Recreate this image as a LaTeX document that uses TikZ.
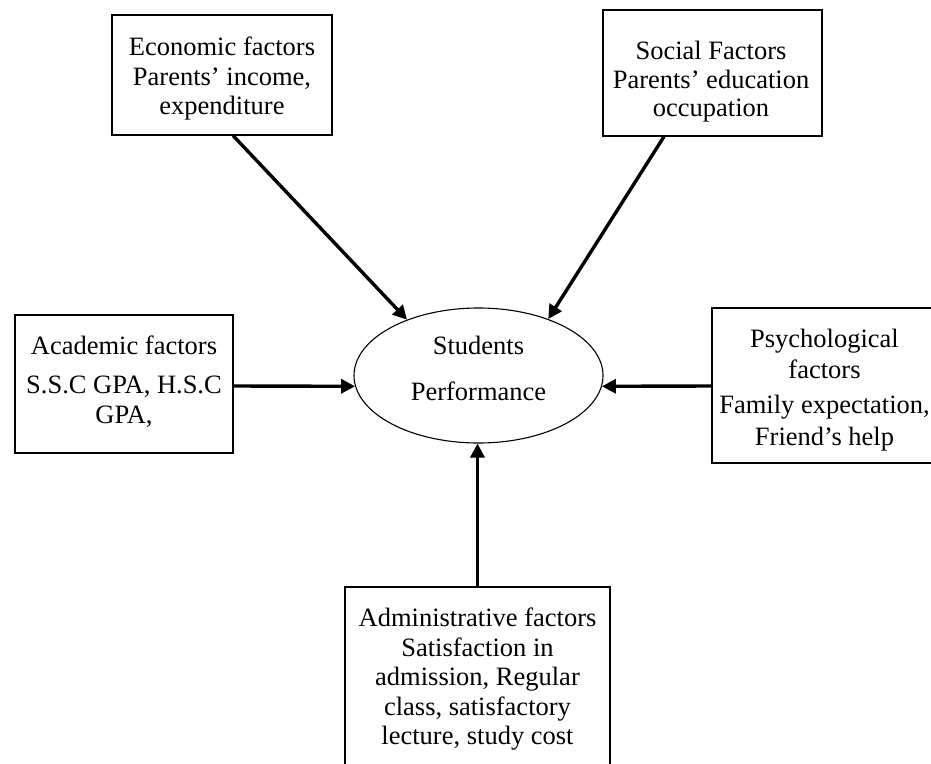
\documentclass[tikz,border=0pt]{standalone}
\usepackage{fontspec}
\setmainfont{Liberation Serif}
\usetikzlibrary{arrows.meta,shapes.geometric}
\begin{document}
\begin{tikzpicture}[x=1pt,y=-1pt,
  box/.style={draw, line width=1.1pt, inner sep=0pt},
  txt/.style={anchor=north, inner sep=0pt, align=center,
    font=\fontsize{26.5}{29.5}\selectfont},
  arr/.style={line width=3.4pt, -{Triangle[length=14pt 0 0,width=14pt 0 0]}}]
\useasboundingbox (0,0) rectangle (931,763);
\clip (0,0) rectangle (931,763);
% boxes
\node[box, minimum width=220pt, minimum height=120pt] (eco) at (222,75) {};
\node[box, minimum width=219pt, minimum height=126pt] (soc) at (712.5,73) {};
\node[box, minimum width=218pt, minimum height=138pt] (aca) at (124,384) {};
\node[box, minimum width=232pt, minimum height=155pt] (psy) at (828,385.5) {};
\node[box, minimum width=265pt, minimum height=213pt] (adm) at (477.5,693.5) {};
\node[ellipse, draw, line width=1.1pt, inner sep=0pt,
      minimum width=249pt, minimum height=135pt] (perf) at (478.5,375.5) {};
% texts
\node[txt] (ecot) at (222,37) {Economic factors\\Parents’ income,\\expenditure};
\node[txt] (soct) at (711,41) {Social Factors\\[-1pt]Parents’ education\\[-1pt]occupation};
\node[txt] (acat) at (124,336) {Academic factors\\[9.5pt]S.S.C GPA, H.S.C\\GPA,};
\node[txt] (psyt) at (824.5,329) {Psychological\\[1.5pt]factors\\[5.5pt]Family expectation,\\[2.5pt]Friend’s help};
\node[txt] (admt) at (477.5,608) {Administrative factors\\Satisfaction in\\admission, Regular\\class, satisfactory\\lecture, study cost};
\node[txt] (perft) at (478.5,336) {Students\\[16.5pt]Performance};
% arrows
\draw[arr] ([xshift=11pt]eco.south) -- (perf.142);
\draw[arr] ([xshift=-48.5pt]soc.south) -- (perf.39);
\draw[arr] ([yshift=-2pt]aca.east) -- (perf.185);
\draw[arr] ([yshift=-0.5pt]psy.west) -- (perf.-5);
\draw[arr] (adm.north) -- (adm.north |- perf.south);
\end{tikzpicture}
\end{document}
